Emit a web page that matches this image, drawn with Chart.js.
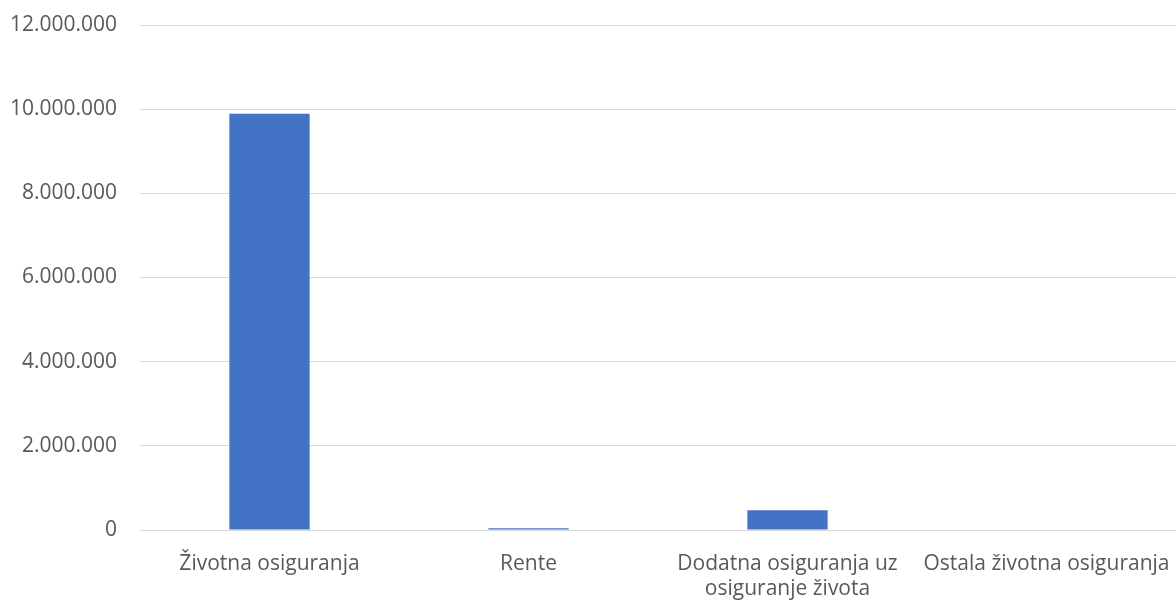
<!DOCTYPE html>
<html>
<head>
<meta charset="utf-8">
<script src="https://cdn.jsdelivr.net/npm/chart.js@4"></script>
<style>
html,body{margin:0;padding:0;background:#fff;}
#wrap{width:1176px;height:601px;position:relative;}
</style>
</head>
<body>
<div id="wrap"><canvas id="c" width="1176" height="601"></canvas></div>
<script>
const categories = [
  "Životna osiguranja",
  "Rente",
  ["Dodatna osiguranja uz", "osiguranje života"],
  "Ostala životna osiguranja"
];
const values = [9890000, 40000, 468000, 0];
const yTicks = [0, 2000000, 4000000, 6000000, 8000000, 10000000, 12000000];

function fmt(v){
  return String(Math.round(v)).replace(/\B(?=(\d{3})+(?!\d))/g, ".");
}

new Chart(document.getElementById('c'), {
  type: 'bar',
  data: {
    labels: categories,
    datasets: [{
      data: values,
      backgroundColor: '#4472C4',
      borderWidth: 0,
      categoryPercentage: 1.0,
      barPercentage: 0.31
    }]
  },
  options: {
    responsive: false,
    animation: false,
    layout: { padding: { top: 25, right: 0, left: 0, bottom: 0 } },
    plugins: { legend: { display: false }, tooltip: { enabled: false } },
    scales: {
      x: {
        grid: { display: false, drawTicks: false },
        border: { display: true, color: '#d9d9d9', width: 1 },
        ticks: {
          color: '#595959',
          font: { family: 'Open Sans', size: 21 },
          padding: 21,
          maxRotation: 0,
          autoSkip: false
        },
        afterFit: s => { s.height = 71; s.paddingLeft = 0; s.paddingRight = 0; }
      },
      y: {
        min: 0,
        max: 12000000,
        afterBuildTicks: s => { s.ticks = yTicks.map(v => ({ value: v })); },
        grid: { color: '#d9d9d9', lineWidth: 1, drawTicks: false },
        border: { display: false },
        ticks: {
          color: '#595959',
          font: { family: 'Open Sans', size: 21 },
          padding: 23,
          callback: v => fmt(v)
        },
        afterFit: s => { s.width = 140; s.paddingTop = 0; s.paddingBottom = 0; }
      }
    }
  }
});
</script>
</body>
</html>
